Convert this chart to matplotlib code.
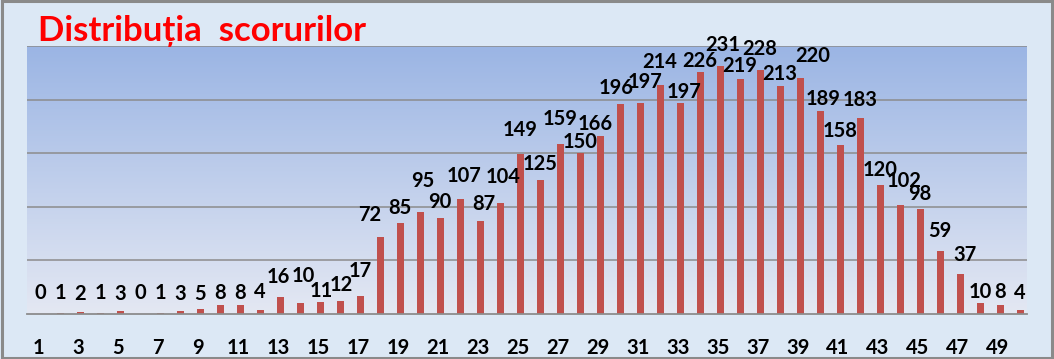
import numpy as np
import matplotlib
matplotlib.use("Agg")
import matplotlib.pyplot as plt
from matplotlib.patches import Rectangle
from matplotlib.transforms import ScaledTranslation

# ---- data ----
scores = list(range(1, 51))
counts = [0, 1, 2, 1, 3, 0, 1, 3, 5, 8,
          8, 4, 16, 10, 11, 12, 17, 72, 85, 95,
          90, 107, 87, 104, 149, 125, 159, 150, 166, 196,
          197, 214, 197, 226, 231, 219, 228, 213, 220, 189,
          158, 183, 120, 102, 98, 59, 37, 10, 8, 4]
tick_labels = [str(s) for s in scores if s % 2 == 1]
tick_positions = [s for s in scores if s % 2 == 1]
title = "Distribuția  scorurilor"

# ---- label placement style (pixel gaps between bar top and label baseline) ----
label_gap_px = [15, 14, 12, 14, 11, 15, 14, 11, 9, 6,
                6, 12, 14, 21, 5, 10, 19, 16, 9, 25,
                10, 17, 11, 20, 18, 10, 19, 5, 6, 10,
                15, 17, 5, 5, 15, 7, 15, 6, 16, 6,
                8, 12, 9, 18, 9, 14, 13, 5, 7, 11]
label_dx_px = {13: -2, 14: 3, 15: 1, 16: 1, 18: -10, 20: 3, 22: 4, 23: 4, 24: 3,
               29: -5, 30: -4, 31: 5, 33: 4, 35: 3, 39: 13, 40: 3, 44: 4, 47: 5}

plt.rcParams['font.family'] = ['Lato', 'DejaVu Sans']

W, H = 1054, 359
fig = plt.figure(figsize=(W / 100, H / 100), dpi=100)
fig.patch.set_facecolor('#dce8f5')

# outer frame
fig.patches.append(Rectangle((0.002, 0.004), 0.996, 0.992, transform=fig.transFigure,
                             fill=False, edgecolor='#8a8a8a', linewidth=2.2))

ax = fig.add_axes([27 / W, 1 - 314 / H, 1000 / W, 268 / H])
ax.set_xlim(0.35, 50.35)
ax.set_ylim(0, 250)

# gradient background in plot area
grad = np.linspace(0, 1, 256).reshape(-1, 1)
top = np.array([155, 181, 228]) / 255
bot = np.array([228, 232, 243]) / 255
img = bot[None, None, :] * (1 - grad[:, :, None]) + top[None, None, :] * grad[:, :, None]
ax.imshow(img, extent=[0.35, 50.35, 0, 250], origin='lower', aspect='auto', zorder=0)

ax.set_yticks([50, 100, 150, 200, 250])
ax.yaxis.grid(True, color='#8c8c8c', linewidth=1.1)
ax.set_axisbelow(True)
for gl in ax.get_ygridlines():
    gl.set_zorder(1)
ax.tick_params(axis='y', left=False, labelleft=False)

bars = ax.bar(scores, counts, width=0.35, color='#c0504d', zorder=2)

for x, v, g in zip(scores, counts, label_gap_px):
    dx = label_dx_px.get(x, 0)
    ax.annotate(str(v), (x, v), xytext=(dx, g), textcoords='offset pixels',
                ha='center', va='baseline', fontsize=14.5, fontweight='bold',
                color='black', zorder=3, annotation_clip=False)

ax.set_xticks(tick_positions)
ax.set_xticklabels(tick_labels, fontsize=14.5, fontweight='bold')
ax.tick_params(axis='x', length=0, pad=17)
shift = ScaledTranslation(-2 / 100, 0, fig.dpi_scale_trans)
for lbl in ax.get_xticklabels():
    lbl.set_transform(lbl.get_transform() + shift)

for s in ['top', 'left', 'right']:
    ax.spines[s].set_visible(False)
ax.spines['bottom'].set_color('#8c8c8c')
ax.spines['bottom'].set_linewidth(1.3)

fig.text(38 / W, 1 - 41 / H, title, color='#ff0000', fontsize=25,
         fontweight='bold', ha='left', va='baseline')

fig.savefig('out.png', dpi=100, facecolor=fig.get_facecolor())
